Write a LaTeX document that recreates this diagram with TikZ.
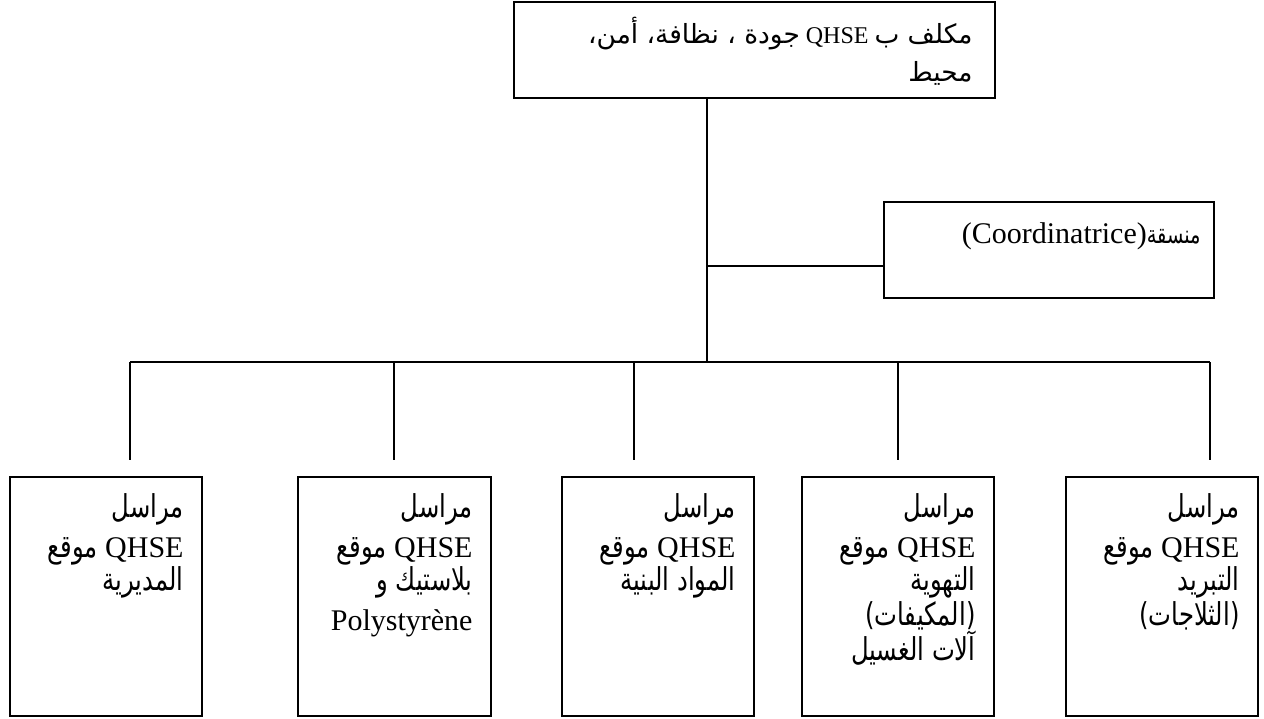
\documentclass[tikz,border=0pt]{standalone}
\usepackage{fontspec}
\setmainfont{Liberation Serif}
\newfontfamily\arabicfont[Script=Arabic,Scale=1.05,FakeStretch=0.77]{DejaVu Sans}
\newfontfamily\arabicwide[Script=Arabic,Scale=0.8]{DejaVu Sans}
\TeXXeTstate=1
\newcommand{\ar}[1]{{\arabicfont #1}}
\newcommand{\arT}[1]{{\arabicwide\fontsize{33}{38}\selectfont #1}}
\newcommand{\arC}[1]{{\arabicfont\fontsize{24}{35}\selectfont #1}}
\begin{document}
\begin{tikzpicture}[x=1pt,y=-1pt,
  box/.style={draw,line width=1.5pt,inner sep=0pt},
  conn/.style={line width=1.5pt},
  txt/.style={inner sep=0pt,align=right,anchor=north east},
  bottomtxt/.style={txt,font=\fontsize{30}{35}\selectfont}]
\useasboundingbox (0,0) rectangle (1264,718);
% boxes
\node[box,minimum width=481pt,minimum height=96pt] (top) at (754.5,50) {};
\node[box,minimum width=330pt,minimum height=96pt] (coord) at (1049,250) {};
\node[box,minimum width=192pt,minimum height=239pt] (b1) at (106,596.5) {};
\node[box,minimum width=193pt,minimum height=239pt] (b2) at (394.5,596.5) {};
\node[box,minimum width=192pt,minimum height=239pt] (b3) at (658,596.5) {};
\node[box,minimum width=192pt,minimum height=239pt] (b4) at (898,596.5) {};
\node[box,minimum width=192pt,minimum height=239pt] (b5) at (1162,596.5) {};
% texts
\node[txt,font=\fontsize{24}{38}\selectfont] (toptxt) at ([xshift=-23pt,yshift=-16pt]top.north east)
  {\beginR\arT{مكلف ب} QHSE \arT{جودة ، نظافة، أمن،}\endR\\ \beginR\arT{محيط}\endR};
\node[txt,font=\fontsize{30}{35}\selectfont] (coordtxt) at ([xshift=-14pt,yshift=-21pt]coord.north east)
  {\beginR\arC{منسقة}\beginL(Coordinatrice)\endL\endR};
\node[bottomtxt] (t1) at ([xshift=-19pt,yshift=-17pt]b1.north east)
  {\beginR\ar{مراسل}\endR\\[5pt] \beginR QHSE \ar{موقع}\endR\\[-2pt] \beginR\ar{المديرية}\endR};
\node[bottomtxt] (t2) at ([xshift=-19pt,yshift=-17pt]b2.north east)
  {\beginR\ar{مراسل}\endR\\[5pt] \beginR QHSE \ar{موقع}\endR\\[-2pt] \beginR\ar{بلاستيك و}\endR\\[5pt] Polystyrène};
\node[bottomtxt] (t3) at ([xshift=-19pt,yshift=-17pt]b3.north east)
  {\beginR\ar{مراسل}\endR\\[5pt] \beginR QHSE \ar{موقع}\endR\\[-2pt] \beginR\ar{المواد البنية}\endR};
\node[bottomtxt] (t4) at ([xshift=-19pt,yshift=-17pt]b4.north east)
  {\beginR\ar{مراسل}\endR\\[5pt] \beginR QHSE \ar{موقع}\endR\\[-2pt] \beginR\ar{التهوية}\endR\\ \beginR\ar{(المكيفات)}\endR\\ \beginR\ar{آلات الغسيل}\endR};
\node[bottomtxt] (t5) at ([xshift=-19pt,yshift=-17pt]b5.north east)
  {\beginR\ar{مراسل}\endR\\[5pt] \beginR QHSE \ar{موقع}\endR\\[-2pt] \beginR\ar{التبريد}\endR\\ \beginR\ar{(الثلاجات)}\endR};
% connector points
\coordinate (bus) at (707,362);
\coordinate (j) at (707,266);
\coordinate (d1) at (130,362);
\coordinate (d2) at (394,362);
\coordinate (d3) at (634,362);
\coordinate (d4) at (898,362);
\coordinate (d5) at (1210,362);
\coordinate (e1) at (130,460);
\coordinate (e2) at (394,460);
\coordinate (e3) at (634,460);
\coordinate (e4) at (898,460);
\coordinate (e5) at (1210,460);
% connectors
\draw[conn] (top.south -| bus) -- (bus);
\draw[conn] (j) -- (j -| coord.west);
\draw[conn] (d1) -- (d5);
\draw[conn] (d1) -- (e1);
\draw[conn] (d2) -- (e2);
\draw[conn] (d3) -- (e3);
\draw[conn] (d4) -- (e4);
\draw[conn] (d5) -- (e5);
\end{tikzpicture}
\end{document}
